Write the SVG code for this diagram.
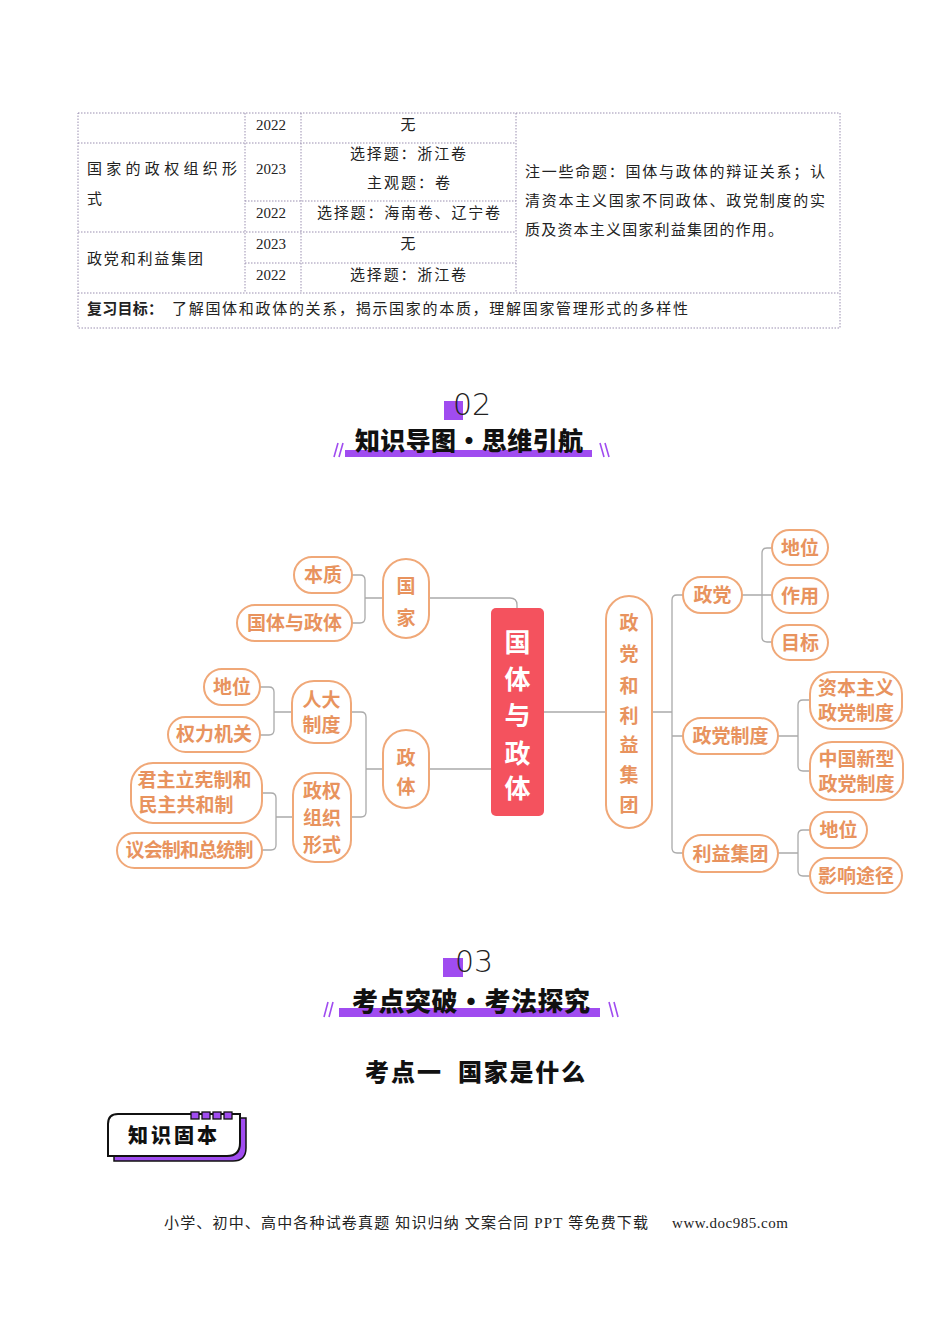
<svg xmlns="http://www.w3.org/2000/svg" width="950" height="1344" viewBox="0 0 950 1344">
<style>
.tb{fill:none;stroke:#9a8fb0;stroke-width:1;stroke-dasharray:1.5 1.5}
.t{font-family:"Liberation Serif","Noto Sans CJK SC",serif;font-size:15px;fill:#222}
.tc{text-anchor:middle}
.n{fill:#fff;stroke:#F0A878;stroke-width:2}
.nt{font-family:"Noto Sans CJK SC",sans-serif;font-weight:700;font-size:19px;fill:#E8935E;text-anchor:middle}
.c{fill:none;stroke:#aaa;stroke-width:1.3}
.hd{font-family:"Noto Sans CJK SC",sans-serif;font-weight:900;fill:#111}
.num{font-family:"DejaVu Sans",sans-serif;font-weight:300;font-size:30px;fill:#222}
.pu{fill:#A04CF0}
</style>
<rect width="950" height="1344" fill="#fff"/>

<g id="table">
<rect class="tb" x="78" y="113" width="762" height="215"/>
<line class="tb" x1="245" y1="113" x2="245" y2="293"/>
<line class="tb" x1="301" y1="113" x2="301" y2="293"/>
<line class="tb" x1="516" y1="113" x2="516" y2="293"/>
<line class="tb" x1="78" y1="143" x2="516" y2="143"/>
<line class="tb" x1="245" y1="201" x2="516" y2="201"/>
<line class="tb" x1="78" y1="232" x2="516" y2="232"/>
<line class="tb" x1="245" y1="263" x2="516" y2="263"/>
<line class="tb" x1="78" y1="293" x2="840" y2="293"/>
<text class="t tc" x="271" y="130">2022</text>
<text class="t tc" x="408" y="130">无</text>
<text class="t" x="87" y="174" textLength="150">国家的政权组织形</text>
<text class="t" x="87" y="204">式</text>
<text class="t tc" x="271" y="174">2023</text>
<text class="t" x="350" y="159" textLength="116">选择题：浙江卷</text>
<text class="t" x="367" y="188" textLength="83">主观题：卷</text>
<text class="t tc" x="271" y="218">2022</text>
<text class="t" x="317" y="218" textLength="183">选择题：海南卷、辽宁卷</text>
<text class="t" x="87" y="264" textLength="116">政党和利益集团</text>
<text class="t tc" x="271" y="249">2023</text>
<text class="t tc" x="408" y="249">无</text>
<text class="t tc" x="271" y="280">2022</text>
<text class="t" x="350" y="280" textLength="116">选择题：浙江卷</text>
<text class="t" x="525" y="177" textLength="300">注一些命题：国体与政体的辩证关系；认</text>
<text class="t" x="525" y="206" textLength="300">清资本主义国家不同政体、政党制度的实</text>
<text class="t" x="525" y="235" textLength="258">质及资本主义国家利益集团的作用。</text>
<text class="t" x="87" y="314" font-weight="700" textLength="76">复习目标：</text>
<text class="t" x="172" y="314" textLength="516">了解国体和政体的关系，揭示国家的本质，理解国家管理形式的多样性</text>
</g>

<g id="header02">
<rect class="pu" x="444" y="401" width="19" height="19"/>
<text class="num" x="453" y="415">02</text>
<rect class="pu" x="345" y="450" width="247" height="7"/>
<text class="hd" x="355" y="450" font-size="25" textLength="228">知识导图•思维引航</text>
<path d="M334,457 L338,443 M339,457 L343,443" stroke="#A04CF0" stroke-width="1.6" fill="none"/>
<path d="M600,443 L604,457 M605,443 L609,457" stroke="#A04CF0" stroke-width="1.6" fill="none"/>
</g>

<g id="connectors">
<path class="c" d="M383,598 H365 M352,575 H360 Q365,575 365,580 V618 Q365,623 360,623 H352"/>
<path class="c" d="M429,598 H510 Q517,598 517,605 V609"/>
<path class="c" d="M383,769 H366 M351,712 H361 Q366,712 366,717 V812 Q366,817 361,817 H351"/>
<path class="c" d="M292,712 H274 M260,687 H269 Q274,687 274,692 V730 Q274,735 269,735 H260"/>
<path class="c" d="M293,817 H276 M262,793 H271 Q276,793 276,798 V845 Q276,850 271,850 H262"/>
<path class="c" d="M429,769 H491"/>
<path class="c" d="M544,712 H606"/>
<path class="c" d="M652,712 H672 M683,595 H677 Q672,595 672,600 V848 Q672,853 677,853 H683 M672,736 H683"/>
<path class="c" d="M742,595 H772 M772,548 H767 Q762,548 762,553 V637 Q762,642 767,642 H772"/>
<path class="c" d="M778,736 H798 M810,700 H803 Q798,700 798,705 V766 Q798,771 803,771 H810"/>
<path class="c" d="M778,853 H798 M810,830 H803 Q798,830 798,835 V871 Q798,876 803,876 H810"/>
</g>

<g id="center">
<rect x="491" y="608" width="53" height="208" rx="5" fill="#F4525E"/>
<g font-family="Noto Sans CJK SC,sans-serif" font-weight="700" font-size="26" fill="#fff" text-anchor="middle">
<text x="517.5" y="652">国</text><text x="517.5" y="689">体</text><text x="517.5" y="725">与</text><text x="517.5" y="763">政</text><text x="517.5" y="798">体</text>
</g>
</g>

<g id="guojia"><rect class="n" x="383" y="559" width="46" height="79" rx="23"/>
<text class="nt" x="406" y="593" font-size="22">国</text><text class="nt" x="406" y="625" font-size="22">家</text></g>
<g id="benzhi"><rect class="n" x="294" y="557" width="58" height="36" rx="18"/><text class="nt" x="323" y="582">本质</text></g>
<g id="guotiyuzhengti"><rect class="n" x="237" y="605" width="115" height="36" rx="18"/><text class="nt" x="294.5" y="630">国体与政体</text></g>

<g id="zhengti"><rect class="n" x="383" y="730" width="46" height="78" rx="23"/>
<text class="nt" x="406" y="765" font-size="22">政</text><text class="nt" x="406" y="794" font-size="22">体</text></g>
<g id="renda"><rect class="n" x="292" y="681" width="59" height="62" rx="22"/>
<text class="nt" x="321.5" y="707">人大</text><text class="nt" x="321.5" y="732">制度</text></g>
<g id="diwei1"><rect class="n" x="204" y="669" width="56" height="36" rx="18"/><text class="nt" x="232" y="694">地位</text></g>
<g id="quanli"><rect class="n" x="168" y="717" width="92" height="35" rx="17.5"/><text class="nt" x="214" y="741">权力机关</text></g>
<g id="zhengquan"><rect class="n" x="293" y="773" width="58" height="89" rx="22"/>
<text class="nt" x="322" y="798">政权</text><text class="nt" x="322" y="825">组织</text><text class="nt" x="322" y="852">形式</text></g>
<g id="junzhu"><rect class="n" x="131" y="763" width="131" height="60" rx="22"/>
<text class="nt" font-size="18.5"><tspan x="194.5" y="787">君主立宪制和</tspan><tspan x="186" y="812">民主共和制</tspan></text></g>
<g id="yihui"><rect class="n" x="117" y="833" width="145" height="35" rx="17.5"/><text class="nt" x="189.5" y="857" textLength="128">议会制和总统制</text></g>

<g id="zhengdanghe"><rect class="n" x="606" y="596" width="46" height="232" rx="23"/>
<text class="nt" x="629" y="630" font-size="22">政</text><text class="nt" x="629" y="661" font-size="22">党</text><text class="nt" x="629" y="693" font-size="22">和</text><text class="nt" x="629" y="723" font-size="22">利</text><text class="nt" x="629" y="752" font-size="22">益</text><text class="nt" x="629" y="782" font-size="22">集</text><text class="nt" x="629" y="812" font-size="22">团</text>
</g>
<g id="zhengdang"><rect class="n" x="683" y="577" width="59" height="36" rx="18"/><text class="nt" x="712.5" y="602">政党</text></g>
<g id="diwei2"><rect class="n" x="772" y="530" width="56" height="35" rx="17.5"/><text class="nt" x="800" y="555">地位</text></g>
<g id="zuoyong"><rect class="n" x="772" y="578" width="56" height="35" rx="17.5"/><text class="nt" x="800" y="603">作用</text></g>
<g id="mubiao"><rect class="n" x="772" y="625" width="56" height="35" rx="17.5"/><text class="nt" x="800" y="650">目标</text></g>
<g id="zhengdangzhidu"><rect class="n" x="683" y="718" width="95" height="36" rx="18"/><text class="nt" x="730.5" y="743">政党制度</text></g>
<g id="ziben"><rect class="n" x="810" y="672" width="92" height="57" rx="22"/>
<text class="nt"><tspan x="856" y="695">资本主义</tspan><tspan x="856" y="720">政党制度</tspan></text></g>
<g id="zhongguo"><rect class="n" x="810" y="742" width="93" height="58" rx="22"/>
<text class="nt"><tspan x="856.5" y="766">中国新型</tspan><tspan x="856.5" y="791">政党制度</tspan></text></g>
<g id="liyijituan"><rect class="n" x="683" y="835" width="95" height="37" rx="18.5"/><text class="nt" x="730.5" y="861">利益集团</text></g>
<g id="diwei3"><rect class="n" x="810" y="812" width="57" height="36" rx="18"/><text class="nt" x="838.5" y="837">地位</text></g>
<g id="yingxiang"><rect class="n" x="810" y="858" width="92" height="35" rx="17.5"/><text class="nt" x="856" y="883">影响途径</text></g>

<g id="header03">
<rect class="pu" x="443" y="958" width="20" height="19"/>
<text class="num" x="455" y="972">03</text>
<rect class="pu" x="339" y="1008" width="261" height="9"/>
<text class="hd" x="352" y="1011" font-size="26" textLength="238">考点突破•考法探究</text>
<path d="M324,1017 L328,1002 M329,1017 L333,1002" stroke="#A04CF0" stroke-width="1.6" fill="none"/>
<path d="M609,1002 L613,1017 M614,1002 L618,1017" stroke="#A04CF0" stroke-width="1.6" fill="none"/>
</g>

<g id="kaodian">
<text class="hd" x="365" y="1081" font-size="24" font-weight="700" textLength="76">考点一</text>
<text class="hd" x="458" y="1081" font-size="24" font-weight="700" textLength="127">国家是什么</text>
</g>

<g id="badge">
<path d="M114,1127 Q114,1118 124,1118 H246 V1148 Q246,1161 233,1161 H114 Z" fill="#A04CF0" stroke="#111" stroke-width="1.5"/>
<path d="M108,1124 Q108,1114 118,1114 H240 V1143 Q240,1156 227,1156 H108 Z" fill="#fff" stroke="#111" stroke-width="2"/>
<g fill="#A04CF0" stroke="#111" stroke-width="1.3">
<rect x="191" y="1112" width="8" height="7"/><rect x="202" y="1112" width="8" height="7"/><rect x="213" y="1112" width="8" height="7"/><rect x="224" y="1112" width="8" height="7"/>
</g>
<text class="hd" x="128" y="1143" font-size="20" font-weight="700" textLength="89">知识固本</text>
</g>

<g id="footer">
<text class="t" x="164" y="1228" font-size="14.5" textLength="484">小学、初中、高中各种试卷真题 知识归纳 文案合同 PPT 等免费下载</text>
<text class="t" x="672" y="1228" font-size="14.5" textLength="116">www.doc985.com</text>
</g>
</svg>
